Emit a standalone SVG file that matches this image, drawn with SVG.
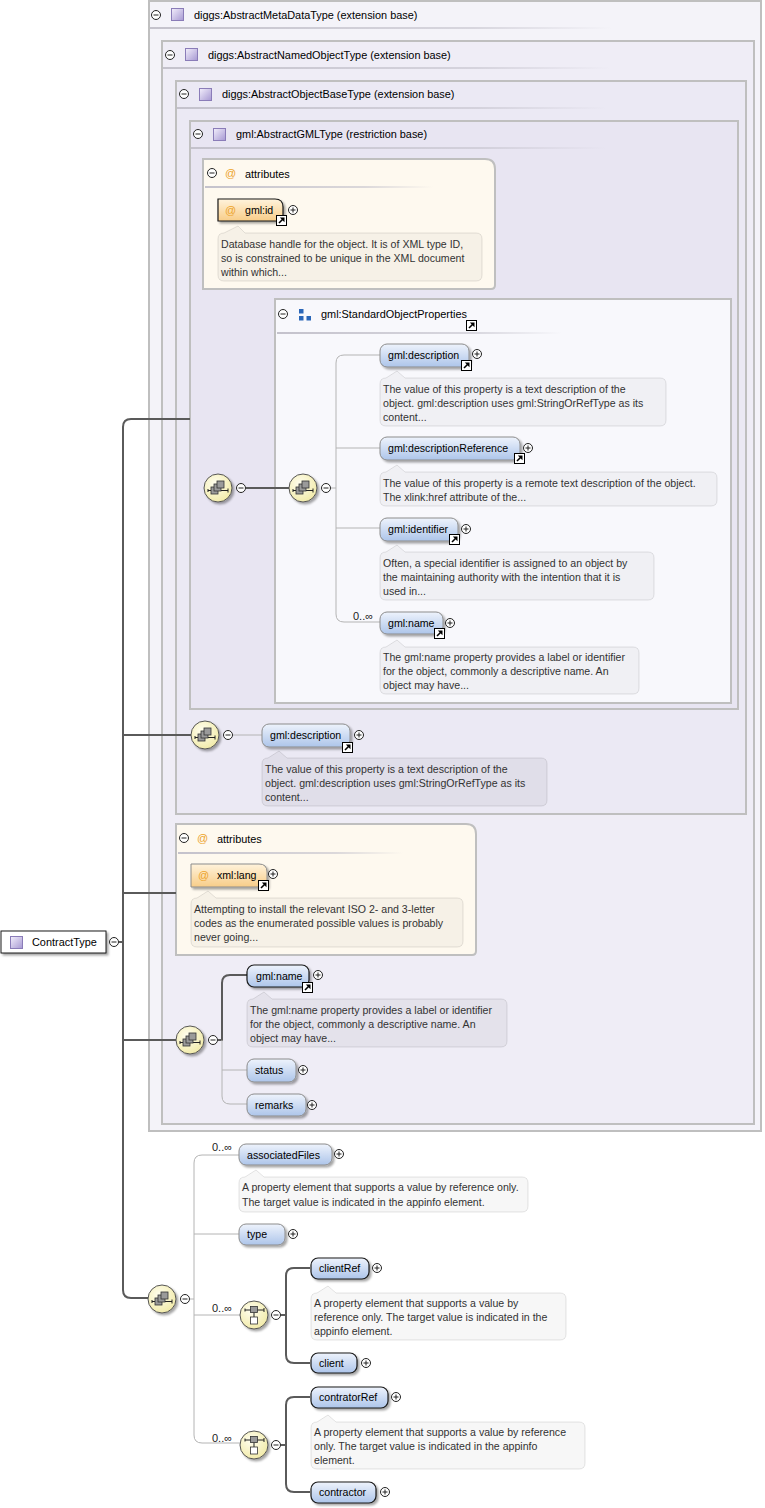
<svg xmlns="http://www.w3.org/2000/svg" width="765" height="1508" viewBox="0 0 765 1508">
<style>
text{font-family:"Liberation Sans",Arial,sans-serif;fill:#000}
.h{font-size:10.9px}
.e{font-size:10.6px}
.d{font-size:10.6px;fill:#333}
.c{font-size:11px;fill:#222}
.at{font-size:11px;fill:#eda32a}
.box{stroke:#bfbfbf;stroke-width:2}
.desc{fill:#000;fill-opacity:0.03;stroke:#000;stroke-opacity:0.1}
.el{fill:url(#gElem);filter:url(#sh)}
.opt{stroke:#8c8c8c;stroke-width:1}
.man{stroke:#1a1a1a;stroke-width:1.2}
.thick{fill:none;stroke:#5a5a5a;stroke-width:2}
.thin{fill:none;stroke:#b4b4b4;stroke-width:1}
</style>
<defs>
<linearGradient id="gElem" x1="0" y1="0" x2="0" y2="1"><stop offset="0" stop-color="#eef3fc"/><stop offset="1" stop-color="#adc5ea"/></linearGradient>
<linearGradient id="gAttr" x1="0" y1="0" x2="0" y2="1"><stop offset="0" stop-color="#fff3dc"/><stop offset="1" stop-color="#f8cd88"/></linearGradient>
<radialGradient id="gComp" cx="0.4" cy="0.35" r="0.7"><stop offset="0" stop-color="#fffef0"/><stop offset="1" stop-color="#f1eaa6"/></radialGradient>
<linearGradient id="gType" x1="0" y1="0" x2="1" y2="1"><stop offset="0" stop-color="#f3effc"/><stop offset="1" stop-color="#a698d2"/></linearGradient>
<linearGradient id="gSep" x1="0" y1="0" x2="1" y2="0"><stop offset="0" stop-color="#c4c2cc"/><stop offset="0.7" stop-color="#c4c2cc" stop-opacity="0.6"/><stop offset="1" stop-color="#c4c2cc" stop-opacity="0"/></linearGradient>
<filter id="sh" x="-20%" y="-20%" width="150%" height="170%"><feDropShadow dx="2" dy="2" stdDeviation="1" flood-color="#000" flood-opacity="0.35"/></filter>
<g id="minus"><circle r="4.5" fill="#fff" stroke="#222"/><path d="M-2.5,0H2.5" stroke="#222"/></g>
<g id="plus"><circle r="4.5" fill="#fff" stroke="#222"/><path d="M-2.5,0H2.5M0,-2.5V2.5" stroke="#222"/></g>
<g id="lnk"><rect x="0.5" y="0.5" width="10" height="10" fill="#fff" stroke="#000"/><path d="M3,8 L7,4" stroke="#000" stroke-width="1.6"/><path d="M3.8,2.5 H8.5 V7.2 Z" fill="#000"/></g>
<g id="typ"><rect x="0.5" y="0.5" width="12" height="12" fill="url(#gType)" stroke="#8a7cb8"/></g>
<g id="seq"><circle r="14" fill="url(#gComp)" stroke="#555" filter="url(#sh)"/><path d="M-10,2.5 H10 M-10,1 V4 M10,0.5 V4.5" stroke="#222"/><rect x="-7" y="-1" width="7" height="7" fill="#9a9a9a" stroke="#333" stroke-width="0.8"/><rect x="-4" y="-4" width="7" height="7" fill="#9a9a9a" stroke="#333" stroke-width="0.8"/><rect x="-1" y="-7" width="7" height="7" fill="#9a9a9a" stroke="#333" stroke-width="0.8"/></g>
<g id="cho"><circle r="14" fill="url(#gComp)" stroke="#555" filter="url(#sh)"/><path d="M-9,-5 H10 M-9,-6.5 V-3.5 M10,-7 V-3 M0,-2.5 V2" stroke="#222"/><rect x="-3.5" y="-8.5" width="7" height="6" fill="#9a9a9a" stroke="#333" stroke-width="0.8"/><rect x="-3.5" y="2" width="7" height="7" fill="#fff" stroke="#333" stroke-width="0.8"/></g>
</defs>

<!-- containers -->
<g id="AbstractMetaDataType">
<rect class="box" x="149" y="1" width="612" height="1130" fill="#f4f3f9"/>
<use href="#minus" x="156" y="15"/><use href="#typ" x="171" y="8"/>
<text class="h" x="194" y="18.5">diggs:AbstractMetaDataType (extension base)</text>
<rect x="150" y="27" width="462" height="2" fill="url(#gSep)"/>
</g>
<g id="AbstractNamedObjectType">
<rect class="box" x="162" y="41" width="592" height="1083" fill="#efedf6"/>
<use href="#minus" x="170" y="55"/><use href="#typ" x="185" y="48"/>
<text class="h" x="208" y="58.5">diggs:AbstractNamedObjectType (extension base)</text>
<rect x="163" y="67" width="447" height="2" fill="url(#gSep)"/>
</g>
<g id="AbstractObjectBaseType">
<rect class="box" x="176" y="81" width="570" height="733" fill="#ebe9f4"/>
<use href="#minus" x="184" y="94"/><use href="#typ" x="199" y="88"/>
<text class="h" x="222" y="98">diggs:AbstractObjectBaseType (extension base)</text>
<rect x="177" y="107" width="430" height="2" fill="url(#gSep)"/>
</g>
<g id="AbstractGMLType">
<rect class="box" x="190" y="121" width="548" height="588" fill="#e8e5f2"/>
<use href="#minus" x="198" y="134"/><use href="#typ" x="213" y="128"/>
<text class="h" x="236" y="138">gml:AbstractGMLType (restriction base)</text>
<rect x="191" y="147" width="415" height="2" fill="url(#gSep)"/>
</g>

<!-- attributes of AbstractGMLType -->
<g id="attributes1">
<path class="box" d="M203,159 H485 Q495,159 495,169 V285 Q495,289 491,289 H203 Z" fill="#fef9ef"/>
<use href="#minus" x="212" y="173"/>
<text class="at" x="225" y="177">@</text>
<text class="h" x="245" y="177.5">attributes</text>
<rect x="205" y="186" width="228" height="2" fill="url(#gSep)"/>
</g>

<!-- StandardObjectProperties group -->
<g id="StandardObjectProperties">
<rect class="box" x="275" y="299" width="456" height="404" fill="#f8f8fc"/>
<use href="#minus" x="283" y="314"/>
<rect x="299" y="309" width="4.5" height="4.5" fill="#2a66b8"/><rect x="299" y="316" width="4.5" height="4.5" fill="#2a66b8"/><rect x="306.5" y="316" width="4.5" height="4.5" fill="#2a66b8"/>
<text class="h" x="321" y="318">gml:StandardObjectProperties</text>
<use href="#lnk" x="466" y="320"/>
<rect x="277" y="332" width="285" height="2" fill="url(#gSep)"/>
</g>

<!-- attributes of AbstractNamedObjectType -->
<g id="attributes2">
<path class="box" d="M176,824 H466 Q476,824 476,834 V951 Q476,955 472,955 H176 Z" fill="#fef9ef"/>
<use href="#minus" x="184" y="838"/>
<text class="at" x="197" y="842">@</text>
<text class="h" x="217" y="842.5">attributes</text>
<rect x="178" y="852" width="225" height="2" fill="url(#gSep)"/>
</g>

<!-- connectors -->
<g id="connectors">
<path class="thick" d="M119,942 H123"/>
<path class="thick" d="M190,419 H131 Q123,419 123,427 V1290 Q123,1298 131,1298 H148"/>
<path class="thick" d="M123,735 H191 M123,893 H176 M123,1040 H176"/>
<path class="thick" d="M246,488 H289"/>
<path class="thin" d="M331,488 H336 M380,355 H344 Q336,355 336,363 V614 Q336,622 344,622 H380 M336,448 H380 M336,528 H380"/>
<path class="thin" d="M233,735 H262"/>
<path class="thick" d="M218,1040 H222 V983 Q222,975 230,975 H247"/>
<path class="thin" d="M222,1040 V1096 Q222,1104 230,1104 H247 M222,1070 H247"/>
<path class="thin" d="M190,1299 H194 M239,1155 H202 Q194,1155 194,1163 V1435 Q194,1443 202,1443 H240 M194,1234 H239 M194,1315 H240"/>
<path class="thick" d="M281,1315 H286 M310,1268 H294 Q286,1268 286,1276 V1355 Q286,1363 294,1363 H310"/>
<path class="thick" d="M281,1445 H286 M310,1397 H294 Q286,1397 286,1405 V1484 Q286,1492 294,1492 H310"/>
</g>

<g id="gml_id">
<path d="M218,199 H275 Q283,199 283,207 V221 H218 Z" fill="url(#gAttr)" stroke="#1a1a1a" stroke-width="1.2" filter="url(#sh)"/>
<text class="at" x="225" y="214">@</text>
<text class="e" x="245" y="214">gml:id</text>
<use href="#lnk" x="276" y="215"/><use href="#plus" x="293" y="210"/>
<path class="desc" d="M224,233 L238,226 L245,233 H476 Q482,233 482,239 V275 Q482,281 476,281 H224 Q218,281 218,275 V239 Q218,233 224,233 Z" fill="#e8d8b0" />
<text class="d" x="221" y="248">Database handle for the object. It is of XML type ID,</text>
<text class="d" x="221" y="262">so is constrained to be unique in the XML document</text>
<text class="d" x="221" y="276">within which...</text>
</g>

<g id="seq_gml">
<use href="#seq" x="218" y="488"/><use href="#minus" x="241" y="488"/>
</g>
<g id="seq_std">
<use href="#seq" x="303" y="488"/><use href="#minus" x="326" y="488"/>
</g>

<g id="std_description">
<rect class="el opt" x="380" y="344" width="89" height="23" rx="7"/>
<text class="e" x="388" y="359">gml:description</text>
<use href="#lnk" x="461" y="360"/><use href="#plus" x="477" y="354"/>
<path class="desc" d="M386,378 L397,371 L405,378 H660 Q666,378 666,384 V420 Q666,426 660,426 H386 Q380,426 380,420 V384 Q380,378 386,378 Z"/>
<text class="d" x="383" y="393">The value of this property is a text description of the</text>
<text class="d" x="383" y="407">object. gml:description uses gml:StringOrRefType as its</text>
<text class="d" x="383" y="421">content...</text>
</g>
<g id="std_descriptionReference">
<rect class="el opt" x="380" y="437" width="140" height="23" rx="7"/>
<text class="e" x="388" y="452">gml:descriptionReference</text>
<use href="#lnk" x="514" y="453"/><use href="#plus" x="528" y="448"/>
<path class="desc" d="M386,472 L397,465 L405,472 H711 Q717,472 717,478 V500 Q717,506 711,506 H386 Q380,506 380,500 V478 Q380,472 386,472 Z"/>
<text class="d" x="383" y="487">The value of this property is a remote text description of the object.</text>
<text class="d" x="383" y="501">The xlink:href attribute of the...</text>
</g>
<g id="std_identifier">
<rect class="el opt" x="380" y="518" width="78" height="23" rx="7"/>
<text class="e" x="388" y="533">gml:identifier</text>
<use href="#lnk" x="449" y="534"/><use href="#plus" x="466" y="529"/>
<path class="desc" d="M386,552 L397,545 L405,552 H648 Q654,552 654,558 V594 Q654,600 648,600 H386 Q380,600 380,594 V558 Q380,552 386,552 Z"/>
<text class="d" x="383" y="567">Often, a special identifier is assigned to an object by</text>
<text class="d" x="383" y="581">the maintaining authority with the intention that it is</text>
<text class="d" x="383" y="595">used in...</text>
</g>
<g id="std_name">
<text class="c" x="353" y="620">0..∞</text>
<rect class="el opt" x="380" y="612" width="63" height="22" rx="7"/>
<text class="e" x="388" y="627">gml:name</text>
<use href="#lnk" x="434" y="628"/><use href="#plus" x="450" y="623"/>
<path class="desc" d="M386,647 L397,640 L405,647 H633 Q639,647 639,653 V688 Q639,694 633,694 H386 Q380,694 380,688 V653 Q380,647 386,647 Z"/>
<text class="d" x="383" y="661">The gml:name property provides a label or identifier</text>
<text class="d" x="383" y="675">for the object, commonly a descriptive name. An</text>
<text class="d" x="383" y="689">object may have...</text>
</g>

<!-- AbstractObjectBaseType content -->
<g id="seq_base">
<use href="#seq" x="205" y="735"/><use href="#minus" x="228" y="735"/>
</g>
<g id="base_description">
<rect class="el opt" x="262" y="724" width="88" height="23" rx="7"/>
<text class="e" x="270" y="739">gml:description</text>
<use href="#lnk" x="342" y="742"/><use href="#plus" x="359" y="735"/>
<path class="desc" d="M268,758 L279,751 L287,758 H541 Q547,758 547,764 V800 Q547,806 541,806 H268 Q262,806 262,800 V764 Q262,758 268,758 Z" style="fill-opacity:0.045"/>
<text class="d" x="265" y="773">The value of this property is a text description of the</text>
<text class="d" x="265" y="787">object. gml:description uses gml:StringOrRefType as its</text>
<text class="d" x="265" y="801">content...</text>
</g>

<g id="xml_lang">
<path d="M191,864 H259 Q267,864 267,872 V887 H191 Z" fill="url(#gAttr)" stroke="#8c8c8c" filter="url(#sh)"/>
<text class="at" x="198" y="879">@</text>
<text class="e" x="217" y="879">xml:lang</text>
<use href="#lnk" x="258" y="880"/><use href="#plus" x="273" y="874"/>
<path class="desc" d="M197,898 L208,891 L216,898 H457 Q463,898 463,904 V941 Q463,947 457,947 H197 Q191,947 191,941 V904 Q191,898 197,898 Z"/>
<text class="d" x="194" y="913">Attempting to install the relevant ISO 2- and 3-letter</text>
<text class="d" x="194" y="927">codes as the enumerated possible values is probably</text>
<text class="d" x="194" y="941">never going...</text>
</g>

<!-- ContractType -->
<g id="ContractType">
<rect x="1" y="931" width="105" height="22" fill="#fff" stroke="#1a1a1a" filter="url(#sh)"/>
<use href="#typ" x="10" y="936"/>
<text class="h" x="32" y="946">ContractType</text>
<use href="#minus" x="114" y="942"/>
</g>

<!-- AbstractNamedObjectType sequence -->
<g id="seq_named">
<use href="#seq" x="190" y="1040"/><use href="#minus" x="213" y="1040"/>
</g>
<g id="named_name">
<rect class="el man" x="247" y="965" width="62" height="22" rx="7"/>
<text class="e" x="256" y="980">gml:name</text>
<use href="#lnk" x="302" y="982"/><use href="#plus" x="318" y="975"/>
<path class="desc" d="M253,999 L264,992 L272,999 H501 Q507,999 507,1005 V1041 Q507,1047 501,1047 H253 Q247,1047 247,1041 V1005 Q247,999 253,999 Z" style="fill-opacity:0.045"/>
<text class="d" x="250" y="1014">The gml:name property provides a label or identifier</text>
<text class="d" x="250" y="1028">for the object, commonly a descriptive name. An</text>
<text class="d" x="250" y="1042">object may have...</text>
</g>
<g id="status">
<rect class="el opt" x="247" y="1059" width="49" height="23" rx="7"/>
<text class="e" x="255" y="1074">status</text>
<use href="#plus" x="303" y="1070"/>
</g>
<g id="remarks">
<rect class="el opt" x="247" y="1094" width="59" height="22" rx="7"/>
<text class="e" x="255" y="1109">remarks</text>
<use href="#plus" x="312" y="1105"/>
</g>

<!-- ContractType sequence -->
<g id="seq_contract">
<use href="#seq" x="162" y="1299"/><use href="#minus" x="185" y="1299"/>
</g>
<g id="associatedFiles">
<text class="c" x="212" y="1151">0..∞</text>
<rect class="el opt" x="239" y="1144" width="93" height="21" rx="7"/>
<text class="e" x="247" y="1159">associatedFiles</text>
<use href="#plus" x="339" y="1154"/>
<path class="desc" d="M245,1177 L256,1170 L264,1177 H522 Q528,1177 528,1183 V1206 Q528,1212 522,1212 H245 Q239,1212 239,1206 V1183 Q239,1177 245,1177 Z"/>
<text class="d" x="242" y="1191">A property element that supports a value by reference only.</text>
<text class="d" x="242" y="1206">The target value is indicated in the appinfo element.</text>
</g>
<g id="type">
<rect class="el opt" x="239" y="1224" width="46" height="21" rx="7"/>
<text class="e" x="247" y="1238">type</text>
<use href="#plus" x="293" y="1234"/>
</g>
<g id="choice_client">
<text class="c" x="212" y="1312">0..∞</text>
<use href="#cho" x="254" y="1315"/><use href="#minus" x="276" y="1315"/>
</g>
<g id="clientRef">
<rect class="el man" x="311" y="1258" width="58" height="21" rx="7"/>
<text class="e" x="319" y="1272">clientRef</text>
<use href="#plus" x="377" y="1268"/>
<path class="desc" d="M317,1293 L328,1286 L336,1293 H560 Q566,1293 566,1299 V1334 Q566,1340 560,1340 H317 Q311,1340 311,1334 V1299 Q311,1293 317,1293 Z"/>
<text class="d" x="314" y="1307">A property element that supports a value by</text>
<text class="d" x="314" y="1321">reference only. The target value is indicated in the</text>
<text class="d" x="314" y="1335">appinfo element.</text>
</g>
<g id="client">
<rect class="el man" x="311" y="1353" width="46" height="20" rx="7"/>
<text class="e" x="319" y="1367">client</text>
<use href="#plus" x="366" y="1363"/>
</g>
<g id="choice_contractor">
<text class="c" x="212" y="1442">0..∞</text>
<use href="#cho" x="254" y="1445"/><use href="#minus" x="276" y="1445"/>
</g>
<g id="contratorRef">
<rect class="el man" x="311" y="1387" width="77" height="21" rx="7"/>
<text class="e" x="319" y="1401">contratorRef</text>
<use href="#plus" x="396" y="1397"/>
<path class="desc" d="M317,1422 L328,1415 L336,1422 H579 Q585,1422 585,1428 V1463 Q585,1469 579,1469 H317 Q311,1469 311,1463 V1428 Q311,1422 317,1422 Z"/>
<text class="d" x="314" y="1436">A property element that supports a value by reference</text>
<text class="d" x="314" y="1450">only. The target value is indicated in the appinfo</text>
<text class="d" x="314" y="1464">element.</text>
</g>
<g id="contractor">
<rect class="el man" x="311" y="1482" width="65" height="21" rx="7"/>
<text class="e" x="319" y="1496">contractor</text>
<use href="#plus" x="385" y="1492"/>
</g>
</svg>
